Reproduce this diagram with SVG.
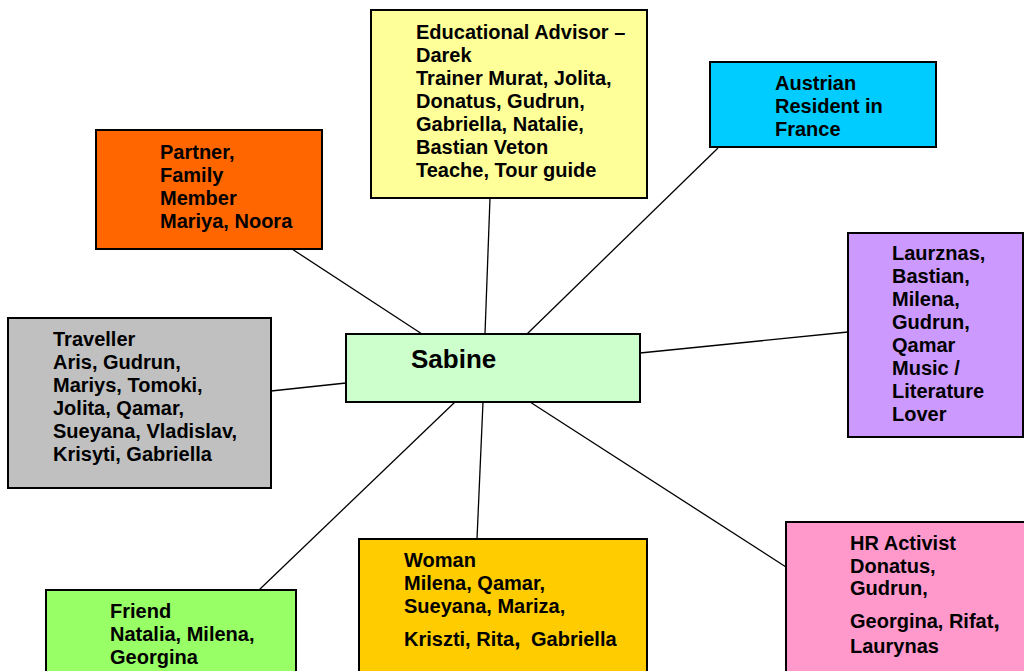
<svg xmlns="http://www.w3.org/2000/svg" width="1024" height="671" viewBox="0 0 1024 671">
<style>
.box{stroke:#000;stroke-width:2}
.t{font-family:"Liberation Sans",Arial,sans-serif;font-weight:bold;font-size:20px;fill:#000}
.big{font-size:26px}
.c{stroke:#000;stroke-width:1.3;fill:none}
</style>
<rect width="1024" height="671" fill="#fff"/>
<g id="connectors">
<line class="c" x1="292" y1="249" x2="422" y2="334"/>
<line class="c" x1="490" y1="198" x2="485" y2="334"/>
<line class="c" x1="718" y1="148" x2="527" y2="334"/>
<line class="c" x1="848" y1="332" x2="640" y2="353"/>
<line class="c" x1="271" y1="391" x2="346" y2="383"/>
<line class="c" x1="259" y1="590" x2="455" y2="402"/>
<line class="c" x1="483" y1="402" x2="477" y2="539"/>
<line class="c" x1="530" y1="402" x2="786" y2="567"/>
</g>
<g id="educational">
<rect class="box" x="371" y="10" width="276" height="188" fill="#FFFF99"/>
<text class="t" x="416"><tspan x="416" y="39">Educational Advisor –</tspan><tspan x="416" y="62">Darek</tspan><tspan x="416" y="85">Trainer Murat, Jolita,</tspan><tspan x="416" y="108">Donatus, Gudrun,</tspan><tspan x="416" y="131">Gabriella, Natalie,</tspan><tspan x="416" y="154">Bastian Veton</tspan><tspan x="416" y="177">Teache, Tour guide</tspan></text>
</g>
<g id="partner">
<rect class="box" x="96" y="130" width="226" height="119" fill="#FF6600"/>
<text class="t"><tspan x="160" y="159">Partner,</tspan><tspan x="160" y="182">Family</tspan><tspan x="160" y="205">Member</tspan><tspan x="160" y="228">Mariya, Noora</tspan></text>
</g>
<g id="austrian">
<rect class="box" x="710" y="62" width="226" height="85" fill="#00CCFF"/>
<text class="t"><tspan x="775" y="90">Austrian</tspan><tspan x="775" y="113">Resident in</tspan><tspan x="775" y="136">France</tspan></text>
</g>
<g id="music">
<rect class="box" x="848" y="233" width="175" height="204" fill="#CC99FF"/>
<text class="t"><tspan x="892" y="260">Laurznas,</tspan><tspan x="892" y="283">Bastian,</tspan><tspan x="892" y="306">Milena,</tspan><tspan x="892" y="329">Gudrun,</tspan><tspan x="892" y="352">Qamar</tspan><tspan x="892" y="375">Music /</tspan><tspan x="892" y="398">Literature</tspan><tspan x="892" y="421">Lover</tspan></text>
</g>
<g id="traveller">
<rect class="box" x="8" y="318" width="263" height="170" fill="#C0C0C0"/>
<text class="t"><tspan x="53" y="346">Traveller</tspan><tspan x="53" y="369">Aris, Gudrun,</tspan><tspan x="53" y="392">Mariys, Tomoki,</tspan><tspan x="53" y="415">Jolita, Qamar,</tspan><tspan x="53" y="438">Sueyana, Vladislav,</tspan><tspan x="53" y="461">Krisyti, Gabriella</tspan></text>
</g>
<g id="sabine">
<rect class="box" x="346" y="334" width="294" height="68" fill="#CCFFCC"/>
<text class="t big" x="411" y="368">Sabine</text>
</g>
<g id="friend">
<rect class="box" x="46" y="590" width="250" height="100" fill="#99FF66"/>
<text class="t"><tspan x="110" y="618">Friend</tspan><tspan x="110" y="641">Natalia, Milena,</tspan><tspan x="110" y="664">Georgina</tspan></text>
</g>
<g id="woman">
<rect class="box" x="359" y="539" width="288" height="150" fill="#FFCC00"/>
<text class="t"><tspan x="404" y="567">Woman</tspan><tspan x="404" y="590">Milena, Qamar,</tspan><tspan x="404" y="613">Sueyana, Mariza,</tspan><tspan x="404" y="646">Kriszti, Rita<tspan font-size="24">,</tspan></tspan><tspan x="531" y="646">Gabriella</tspan></text>
</g>
<g id="hr">
<rect class="box" x="786" y="522" width="250" height="160" fill="#FF99CC"/>
<text class="t"><tspan x="850" y="550">HR Activist</tspan><tspan x="850" y="573">Donatus,</tspan><tspan x="850" y="595">Gudrun,</tspan><tspan x="850" y="628">Georgina, Rifat<tspan font-size="24">,</tspan></tspan><tspan x="850" y="653">Laurynas</tspan></text>
</g>
</svg>
